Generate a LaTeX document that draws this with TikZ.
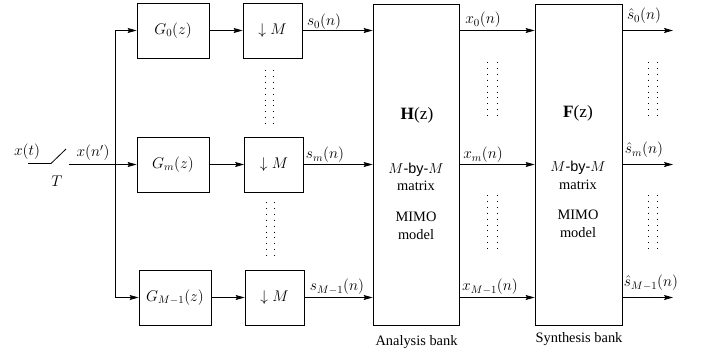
\RequirePackage{fix-cm}
\documentclass[tikz,border=0pt]{standalone}
\usepackage[no-math]{fontspec}
\setmainfont{Liberation Serif}
\newfontfamily\bysans{Liberation Sans}
\usetikzlibrary{arrows.meta}
\begin{document}
\begin{tikzpicture}[x=1pt,y=-1pt,line width=0.8pt,
  box/.style={draw, rectangle, inner sep=0pt},
  mfont/.style={font=\fontsize{15.5}{18}\selectfont},
  gbox/.style={box, mfont, minimum width=72pt, minimum height=55pt},
  dbox/.style={box, mfont, minimum width=59pt, minimum height=55pt},
  bigbox/.style={box, minimum width=86pt, minimum height=321pt},
  arr/.style={-{Stealth[length=9pt,width=5pt,inset=1.5pt]}},
  lbl/.style={inner sep=0pt},
  mlbl/.style={lbl, mfont},
  dotcol/.style={line width=1pt, dash pattern=on 1pt off 4.9pt},
  font=\fontsize{14.4}{17}\selectfont]
\useasboundingbox (0,0) rectangle (703,354);

% filters and decimators
\node[gbox] (g0) at (173,30.5) {$G_0(z)$};
\node[dbox] (d0) at (272.5,30.5) {$\downarrow M$};
\node[gbox] (gm) at (173,164.5) {$G_m(z)$};
\node[dbox] (dm) at (274,164.5) {$\downarrow M$};
\node[gbox] (gM) at (175,297.5) {$G_{M-1}(z)$};
\node[dbox] (dM) at (274.5,297.5) {$\downarrow M$};

% big boxes
\node[bigbox] (H) at (416,164.5) {};
\node[bigbox, minimum width=87pt] (F) at (578.5,164.5) {};

% texts inside
\node[lbl, font=\fontsize{17.28}{20}\selectfont] (Ht) at (417,115) {{\bfseries H}(z)};
\node[lbl] (Hb) at (416,170) {{\bysans $M$-by-$M$}};
\node[lbl] (Hm) at (416,186) {matrix};
\node[lbl] (Hi) at (416,217) {MIMO};
\node[lbl] (Ho) at (416,235) {model};
\node[lbl, font=\fontsize{17.28}{20}\selectfont] (Ft) at (578,113) {{\bfseries F}(z)};
\node[lbl] (Fb) at (578,168) {{\bysans $M$-by-$M$}};
\node[lbl] (Fm) at (578,185) {matrix};
\node[lbl] (Fi) at (578,215) {MIMO};
\node[lbl] (Fo) at (578,233) {model};

\node[lbl] (an) at (416.5,342) {Analysis bank};
\node[lbl] (sy) at (579,339) {Synthesis bank};

% input and switch
\coordinate (xin) at (28,163.5);
\coordinate (sw1) at (51,163.5);
\coordinate (sw2) at (66,149);
\coordinate (xout) at (69,164.5);
\coordinate (bus) at (115,164.5);
\draw (xin) -- (sw1) -- (sw2);
\draw[arr] (xout) -- (gm.west);
\draw (bus |- g0.west) -- (bus |- gM.west);
\draw[arr] (bus |- g0.west) -- (g0.west);
\draw[arr] (bus |- gM.west) -- (gM.west);
\node[mlbl] (xt) at (27,152) {$x(t)$};
\node[mlbl] (T) at (57,181) {$T$};
\node[mlbl] (xn) at (93,153) {$x(n')$};

% filter -> decimator
\draw[arr] (g0) -- (d0);
\draw[arr] (gm) -- (dm);
\draw[arr] (gM) -- (dM);

% decimator -> H
\draw[arr] (d0.east) -- (d0.east -| H.west);
\draw[arr] (dm.east) -- (dm.east -| H.west);
\draw[arr] (dM.east) -- (dM.east -| H.west);
\node[mlbl] (s0) at (324,22) {$s_0(n)$};
\node[mlbl] (sm) at (325,155) {$s_m(n)$};
\node[mlbl] (sM) at (337,287) {$s_{M-1}(n)$};

% H -> F
\draw[arr] (H.east |- d0) -- (F.west |- d0);
\draw[arr] (H.east |- dm) -- (F.west |- dm);
\draw[arr] (H.east |- dM) -- (F.west |- dM);
\node[mlbl] (x0) at (483,20) {$x_0(n)$};
\node[mlbl] (xm) at (483,155) {$x_m(n)$};
\node[mlbl] (xM) at (490,287) {$x_{M-1}(n)$};

% outputs
\coordinate (o0) at (673,30.5);
\coordinate (om) at (673,164.5);
\coordinate (oM) at (673,297.5);
\draw[arr] (F.east |- o0) -- (o0);
\draw[arr] (F.east |- om) -- (om);
\draw[arr] (F.east |- oM) -- (oM);
\node[mlbl] (y0) at (644,16) {$\hat{s}_0(n)$};
\node[mlbl] (ym) at (644,150) {$\hat{s}_m(n)$};
\node[mlbl] (yM) at (651,283) {$\hat{s}_{M-1}(n)$};

% dotted columns
\foreach \xa/\ya/\yb in {265/70/124, 273/70/124, 266/202/258, 274/202/258,
  487/62/119, 497/62/119, 487/195/252, 497/195/252,
  648/62/119, 657/62/119, 648/195/252, 657/195/252}
  \draw[dotcol] (\xa,\ya) -- (\xa,\yb);
\end{tikzpicture}
\end{document}
